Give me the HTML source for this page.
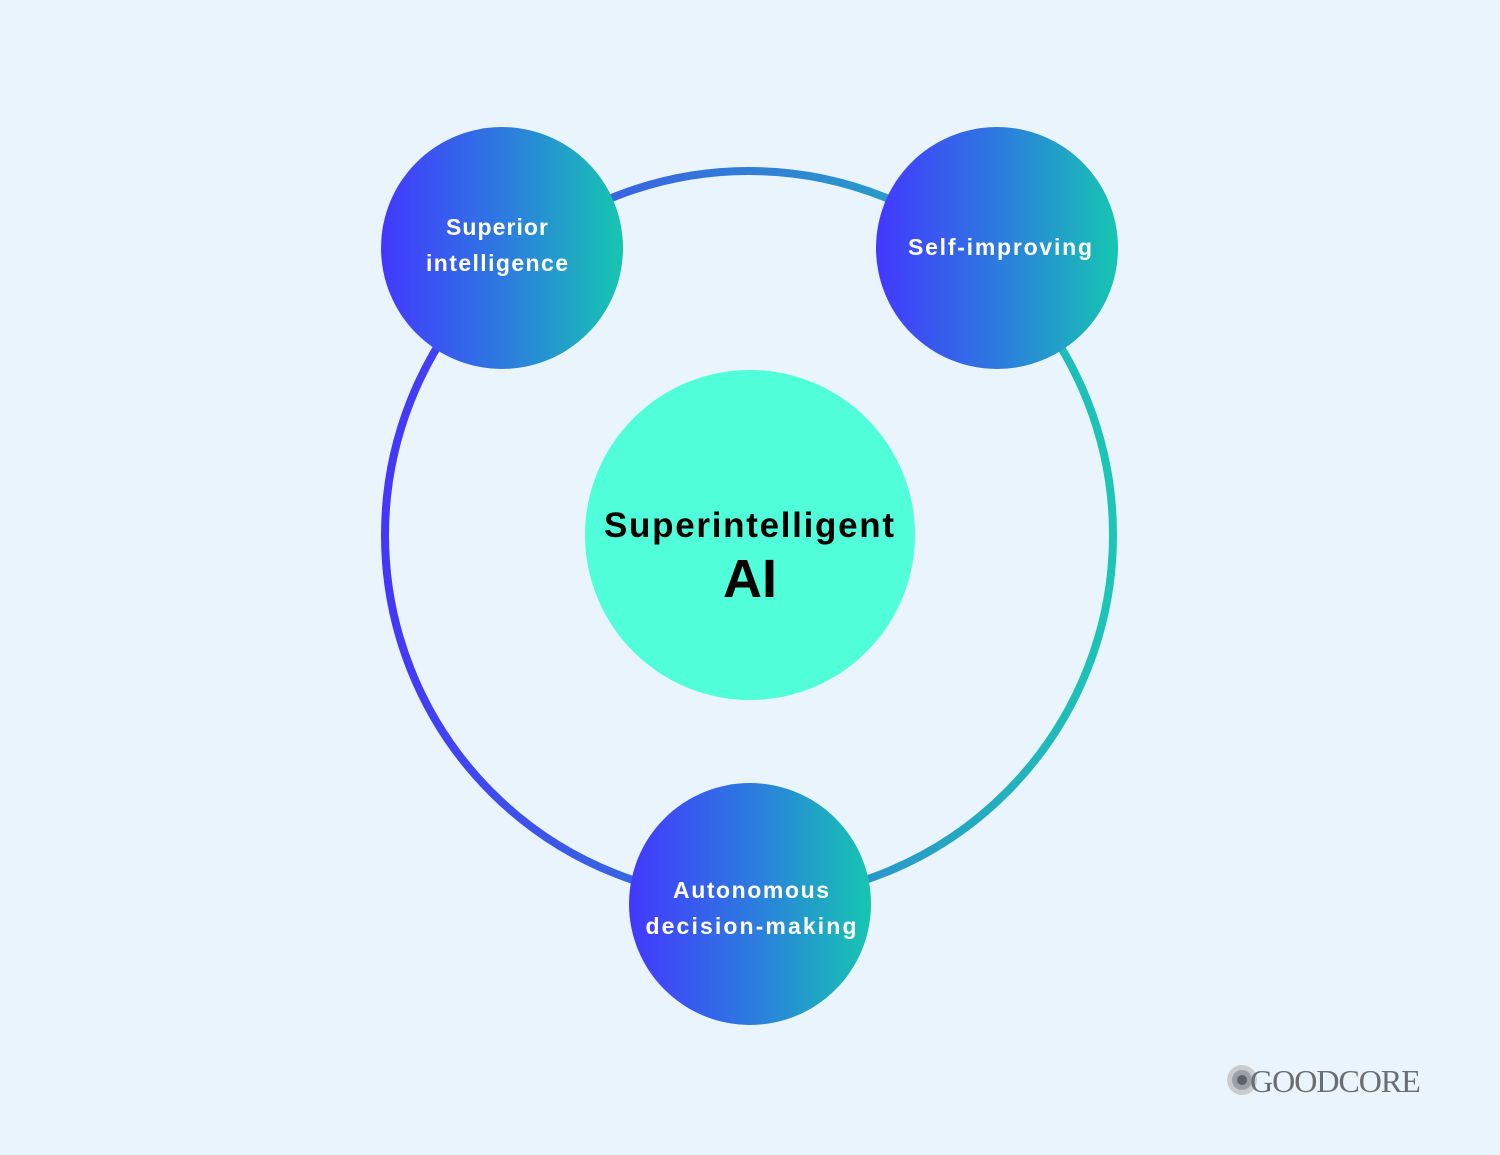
<!DOCTYPE html>
<html><head><meta charset="utf-8"><style>
html,body{margin:0;padding:0;background:#eaf4fd;}
svg{display:block}
</style></head><body>
<svg width="1500" height="1155" viewBox="0 0 1500 1155" xmlns="http://www.w3.org/2000/svg">
<defs>
<linearGradient id="ring" x1="0" y1="0" x2="1" y2="0">
<stop offset="0" stop-color="#4536f8"/><stop offset="1" stop-color="#1cc6b4"/>
</linearGradient>
<linearGradient id="node" x1="0" y1="0" x2="1" y2="0">
<stop offset="0" stop-color="#4338ff"/><stop offset="0.5" stop-color="#2d7ae0"/><stop offset="1" stop-color="#16c6b0"/>
</linearGradient>
</defs>
<rect width="1500" height="1155" fill="#eaf4fd"/>
<circle cx="749" cy="535" r="364" fill="none" stroke="url(#ring)" stroke-width="8"/>
<circle cx="750" cy="535" r="165" fill="#50ffd9"/>
<g font-family="Liberation Sans, sans-serif" font-weight="bold" text-anchor="middle">
<text x="749" y="537" font-size="35" fill="#000" textLength="290" lengthAdjust="spacing">Superintelligent</text>
<text x="750" y="597" font-size="54" fill="#000">AI</text>
<circle cx="502" cy="248" r="121" fill="url(#node)"/>
<circle cx="997" cy="248" r="121" fill="url(#node)"/>
<circle cx="750" cy="904" r="121" fill="url(#node)"/>
<g fill="#fff" font-size="23">
<text x="497" y="235" textLength="102" lengthAdjust="spacing">Superior</text>
<text x="497" y="271" textLength="142" lengthAdjust="spacing">intelligence</text>
<text x="1000" y="255" textLength="184" lengthAdjust="spacing">Self-improving</text>
<text x="751" y="898" textLength="156" lengthAdjust="spacing">Autonomous</text>
<text x="751" y="934" textLength="211" lengthAdjust="spacing">decision-making</text>
</g>
</g>
<g>
<circle cx="1242" cy="1080" r="15" fill="#c8ccd0"/>
<circle cx="1242" cy="1080" r="10" fill="#9aa0a6"/>
<circle cx="1242" cy="1080" r="5" fill="#5c6166"/>
<text x="1250" y="1092" font-family="Liberation Serif, serif" font-size="32" fill="#6a6e73" letter-spacing="-1">GOODCORE</text>
</g>
</svg>
</body></html>
